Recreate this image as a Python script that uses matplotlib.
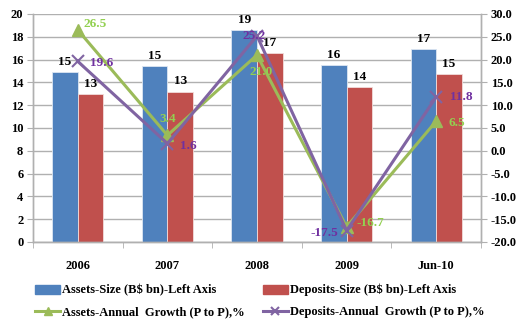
import matplotlib
matplotlib.use("Agg")
import matplotlib.pyplot as plt
import numpy as np
from matplotlib.lines import Line2D
from matplotlib.patches import Patch

categories = ["2006", "2007", "2008", "2009", "Jun-10"]
assets_size = [14.9, 15.4, 18.6, 15.5, 16.9]
deposits_size = [13.0, 13.2, 16.6, 13.6, 14.7]
assets_growth = [26.5, 3.4, 21.0, -16.7, 6.5]
deposits_growth = [19.6, 1.6, 25.2, -17.5, 11.8]

left_ticks = list(range(0, 21, 2))
right_ticks = list(range(-20, 31, 5))

BLUE = "#4F81BD"
RED = "#C0504D"
GREEN = "#9BBB59"
PURPLE = "#8064A2"
GREEN_TXT = "#92D050"
PURPLE_TXT = "#7030A0"
GRID = "#B0B0B0"

plt.rcParams["font.family"] = ["Liberation Serif", "DejaVu Serif"]
plt.rcParams["font.weight"] = "bold"

fig = plt.figure(figsize=(5.18, 3.25), dpi=100)
ax = fig.add_axes([33 / 518, 1 - 242 / 325, 448 / 518, 228 / 325])
ax2 = ax.twinx()

x = np.arange(len(categories))
w = 0.285
ax.bar(x - w / 2, assets_size, w, color=BLUE, edgecolor="#DCE6F2", linewidth=0.6, zorder=2)
ax.bar(x + w / 2, deposits_size, w, color=RED, edgecolor="#F2DCDB", linewidth=0.6, zorder=2)

for xi, v in zip(x, assets_size):
    ax.annotate(f"{v:.0f}", (xi - w / 2, v), xytext=(0, 3), textcoords="offset points",
                ha="center", va="bottom", fontsize=9.5, fontweight="bold")
for xi, v in zip(x, deposits_size):
    ax.annotate(f"{v:.0f}", (xi + w / 2, v), xytext=(0, 3), textcoords="offset points",
                ha="center", va="bottom", fontsize=9.5, fontweight="bold")

ax.set_xlim(-0.5, len(categories) - 0.5)
ax.set_ylim(0, 20)
ax.set_yticks(left_ticks)
ax.set_yticklabels([str(t) for t in left_ticks], fontsize=9, fontweight="bold")
ax.yaxis.grid(True, color=GRID, linewidth=1.0, zorder=0)
ax.set_axisbelow(True)
ax.set_xticks(x)
ax.set_xticklabels(categories, fontsize=9, fontweight="bold")
ax.set_xticks(np.arange(-0.5, len(categories), 1.0), minor=True)
ax.tick_params(axis="x", which="major", length=0, pad=13)
ax.tick_params(axis="x", which="minor", length=4, color=GRID, direction="out")
ax.tick_params(axis="y", length=4, color=GRID, direction="out", pad=3)

ax2.plot(x, assets_growth, color=GREEN, linewidth=2.2, marker="^", markersize=8, zorder=4)
ax2.plot(x, deposits_growth, color=PURPLE, linewidth=2.2, marker="x", markersize=8,
         markeredgewidth=1.5, zorder=5)
ax2.set_ylim(-20, 30)
ax2.set_yticks(right_ticks)
ax2.set_yticklabels([f"{t:.1f}" for t in right_ticks], fontsize=9, fontweight="bold")
ax2.tick_params(axis="y", length=4, color=GRID, direction="out", pad=3)

# growth labels: offsets in points relative to each marker
assets_offsets = [(4, 4, "left"), (0, 12, "center"), (3, -12, "center"),
                  (7, 3, "left"), (9, -1, "left")]
deposits_offsets = [(9, -1, "left"), (9, -2, "left"), (-2, 0, "center"),
                    (-6, -2, "right"), (10, 0, "left")]
for xi, v, (dx, dy, ha) in zip(x, assets_growth, assets_offsets):
    ax2.annotate(f"{v:.1f}", (xi, v), xytext=(dx, dy), textcoords="offset points",
                 ha=ha, va="center", color=GREEN_TXT, fontsize=9.5, fontweight="bold", zorder=6)
for xi, v, (dx, dy, ha) in zip(x, deposits_growth, deposits_offsets):
    ax2.annotate(f"{v:.1f}", (xi, v), xytext=(dx, dy), textcoords="offset points",
                 ha=ha, va="center", color=PURPLE_TXT, fontsize=9.5, fontweight="bold", zorder=6)

for a in (ax, ax2):
    a.spines["top"].set_visible(False)
    for s in ("left", "right", "bottom"):
        a.spines[s].set_color(GRID)
        a.spines[s].set_linewidth(1.0)

handles = [
    Patch(facecolor=BLUE, edgecolor=BLUE),
    Line2D([], [], color=GREEN, linewidth=2.2, marker="^", markersize=6),
    Patch(facecolor=RED, edgecolor=RED),
    Line2D([], [], color=PURPLE, linewidth=2.2, marker="x", markersize=6, markeredgewidth=1.5),
]
labels = [
    "Assets-Size (B$ bn)-Left Axis",
    "Assets-Annual  Growth (P to P),%",
    "Deposits-Size (B$ bn)-Left Axis",
    "Deposits-Annual  Growth (P to P),%",
]
fig.legend(handles, labels, ncol=2, loc="upper left", bbox_to_anchor=(35 / 518, 1 - 284 / 325),
           frameon=False, fontsize=9, handlelength=2.0, handleheight=0.7, handletextpad=0.2,
           columnspacing=1.4, labelspacing=0.75, borderaxespad=0, borderpad=0)

fig.savefig("out.png", dpi=100)
